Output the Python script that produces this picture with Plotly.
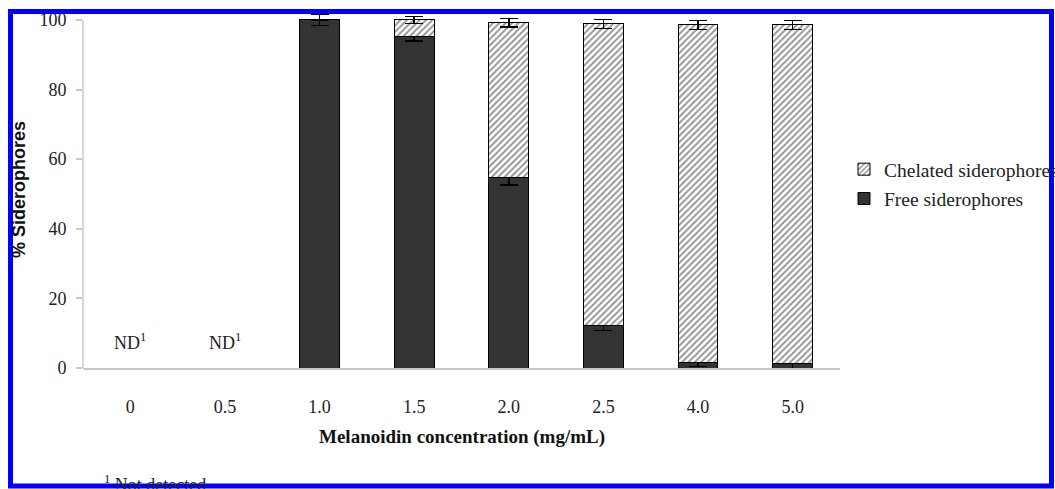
import plotly.graph_objects as go

concentrations = ["0", "0.5", "1.0", "1.5", "2.0", "2.5", "4.0", "5.0"]
free_vals = [None, None, 100, 95.2, 54.6, 12.3, 1.5, 1.2]
free_err = [None, None, 1.6, 1.3, 2.0, 1.5, 1.0, 1.5]
chelated_vals = [None, None, 0, 4.8, 44.6, 86.6, 97.1, 97.4]
chelated_err = [None, None, None, 1.0, 1.2, 1.3, 1.3, 1.3]
nd_categories = ["0", "0.5"]
nd_level = [7.5, 7.5]

W, H = 1055, 489
ML, MR, MT, MB = 83, 215, 13, 121
PW, PH = W - ML - MR, H - MT - MB


def px_x(px):
    return (px - ML) / PW


def px_y(py):
    return (H - MB - py) / PH


serif = "Liberation Serif, Times New Roman, serif"

fig = go.Figure()
fig.add_trace(go.Bar(
    x=concentrations, y=free_vals, name="Free siderophores", legendgroup="free", legendrank=2,
    marker=dict(color="#333333", line=dict(color="#000000", width=1)),
    error_y=dict(type="data", array=free_err, color="#000000", thickness=1.5, width=9),
    width=0.42,
))
fig.add_trace(go.Bar(
    x=concentrations, y=chelated_vals, name="Chelated siderophores", legendgroup="chel", legendrank=1,
    marker=dict(color="#ffffff", line=dict(color="#000000", width=1),
                pattern=dict(shape="/", fgcolor="#2a2a2a", bgcolor="#ffffff", size=4.5, solidity=0.42)),
    error_y=dict(type="data", array=chelated_err, color="#000000", thickness=1.5, width=9),
    width=0.42,
))

annotations = []
for c, v in zip(nd_categories, nd_level):
    annotations.append(dict(x=concentrations.index(c), y=v, xref="x", yref="y",
                            text="ND<sup>1</sup>", showarrow=False,
                            xanchor="center", yanchor="middle",
                            font=dict(family=serif, size=18, color="#222")))
annotations.append(dict(x=px_x(19), y=px_y(190), xref="paper", yref="paper",
                        xanchor="center", yanchor="middle",
                        text="<b>% Siderophores</b>", textangle=-90, showarrow=False,
                        font=dict(family="Liberation Sans, Arial, sans-serif", size=18, color="#111")))
annotations.append(dict(x=0.5, y=px_y(437), xref="paper", yref="paper",
                        xanchor="center", yanchor="middle",
                        text="<b>Melanoidin concentration (mg/mL)</b>", showarrow=False,
                        font=dict(family=serif, size=19, color="#111")))
annotations.append(dict(x=px_x(102), y=px_y(483), xref="paper", yref="paper",
                        xanchor="left", yanchor="middle",
                        text="<sup>1</sup> Not detected", showarrow=False,
                        font=dict(family=serif, size=18, color="#222")))

shapes = [
    dict(type="line", xref="paper", yref="y", x0=0, x1=0, y0=0, y1=100,
         line=dict(color="#c8c8c8", width=1.5), layer="below"),
    dict(type="rect", xref="paper", yref="paper",
         x0=px_x(10.5), x1=px_x(1051.5), y0=px_y(486), y1=px_y(11.5),
         line=dict(color="#0000ff", width=5), layer="above"),
]

fig.update_layout(
    width=W, height=H, autosize=False,
    margin=dict(l=ML, r=MR, t=MT, b=MB, autoexpand=False),
    barmode="stack",
    paper_bgcolor="white", plot_bgcolor="white",
    showlegend=True,
    legend=dict(x=px_x(844), y=px_y(150), xanchor="left", yanchor="top",
                traceorder="grouped", tracegroupgap=1,
                font=dict(family=serif, size=19.5, color="#222"),
                bgcolor="rgba(0,0,0,0)"),
    xaxis=dict(type="category", categoryorder="array", categoryarray=concentrations,
               showline=True, linecolor="#c8c8c8", linewidth=1.5, ticks="", showgrid=False,
               tickfont=dict(family=serif, size=18, color="#222"), ticklabelstandoff=22),
    yaxis=dict(range=[0, 102], tickvals=[0, 20, 40, 60, 80, 100], showgrid=False, zeroline=False,
               showline=False, ticks="outside", ticklen=6, tickcolor="#c8c8c8", tickwidth=1.5,
               tickfont=dict(family=serif, size=18, color="#222"), ticklabelstandoff=6),
    annotations=annotations,
    shapes=shapes,
)

fig.write_html(
    "out.html",
    config={"responsive": False, "displayModeBar": False},
    post_script=("document.documentElement.style.overflow='hidden';"
                 "document.body.style.overflow='hidden';"
                 "document.body.style.margin='0';document.body.style.padding='0';"),
)
